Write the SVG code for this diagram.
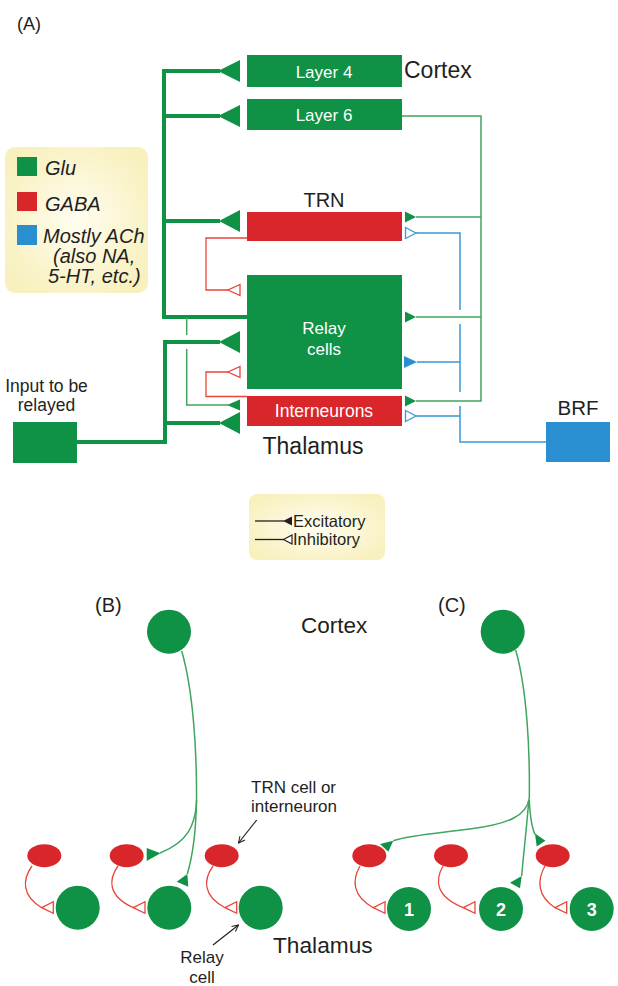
<svg xmlns="http://www.w3.org/2000/svg" width="618" height="986" viewBox="0 0 618 986">
<defs>
<radialGradient id="yel" cx="50%" cy="50%" r="60%">
<stop offset="0" stop-color="#fffdf0"/>
<stop offset="1" stop-color="#f8f0bd"/>
</radialGradient>
<marker id="arr" viewBox="0 0 10 10" refX="9" refY="5" markerWidth="8" markerHeight="8" orient="auto" markerUnits="userSpaceOnUse">
<path d="M1,1 L9,5 L1,9" fill="none" stroke="#231f20" stroke-width="1.3"/>
</marker>
</defs>
<style>
.t{font-family:"Liberation Sans",Arial,sans-serif;fill:#231f20}
.w{font-family:"Liberation Sans",Arial,sans-serif;fill:#ffffff}
.g{fill:#0f9146}
.r{fill:#d9262a}
.b{fill:#2a8fd0}
.thick{fill:none;stroke:#0f9146;stroke-width:4}
.gl{fill:none;stroke:#3fa55f;stroke-width:1.5}
.rl{fill:none;stroke:#e8463a;stroke-width:1.3}
.bl{fill:none;stroke:#3a98d8;stroke-width:1.5}
.ro{fill:#fff;stroke:#e8463a;stroke-width:1.3}
.bo{fill:#fff;stroke:#3a98d8;stroke-width:1.3}
.k{fill:none;stroke:#231f20;stroke-width:1.2}
</style>
<rect width="618" height="986" fill="#ffffff"/>

<text class="t" x="17" y="30" font-size="18">(A)</text>

<g id="legend-colors">
<rect x="5" y="147" width="143" height="146" rx="10" fill="url(#yel)"/>
<rect x="17" y="157" width="20" height="19" class="g"/>
<rect x="17" y="192" width="20" height="19" class="r"/>
<rect x="17" y="225" width="20" height="20" class="b"/>
<text class="t" x="45" y="175" font-size="20" font-style="italic">Glu</text>
<text class="t" x="45" y="210.5" font-size="20" font-style="italic">GABA</text>
<text class="t" x="43" y="243" font-size="20" font-style="italic">Mostly ACh</text>
<text class="t" x="53" y="263" font-size="20" font-style="italic">(also NA,</text>
<text class="t" x="48" y="283" font-size="20" font-style="italic">5-HT, etc.)</text>
</g>

<g id="connectors">
<path class="thick" d="M220,71 H164 V317 H247"/>
<path class="thick" d="M164,116 H220 M164,221 H220"/>
<path class="thick" d="M77,442 H165 V342 H220 M165,423 H220"/>
<path class="gl" d="M186.7,317 V335 M186.7,349 V405 H228"/>
<path class="rl" d="M247,238 H206 V290 H228"/>
<path class="rl" d="M247,396.5 H206 V372 H228"/>
<path class="gl" d="M402,116 H481 V401 H416 M481,217 H416 M481,317 H416"/>
<path class="bl" d="M416,233 H460 V310 M460,324 V392 M460,406 V442 H546 M460,362 H417 M460,416 H416"/>
<g class="g">
<polygon points="240,60 240,82 218,71"/>
<polygon points="240,105 240,127 218,116"/>
<polygon points="240,210 240,232 219,221"/>
<polygon points="240,331 240,353 219,342"/>
<polygon points="240,412 240,434 219,423"/>
<polygon points="240,399.5 240,410.5 227,405"/>
<polygon points="405,211.5 405,222.5 416,217"/>
<polygon points="405,311.5 405,322.5 416,317"/>
<polygon points="405,395.5 405,406.5 416,401"/>
</g>
<polygon class="b" points="404,356 404,368 417,362"/>
<polygon class="ro" points="240,284.5 240,295.5 228,290"/>
<polygon class="ro" points="240,366.5 240,377.5 228,372"/>
<polygon class="bo" points="405.5,227.5 405.5,238.5 416,233"/>
<polygon class="bo" points="405.5,410.5 405.5,421.5 416,416"/>
</g>

<g id="layer4">
<rect x="247" y="55" width="155" height="32" class="g"/>
<text class="w" x="324" y="77.5" font-size="17" text-anchor="middle">Layer 4</text>
<text class="t" x="404" y="78" font-size="23">Cortex</text>
</g>
<g id="layer6">
<rect x="247" y="99" width="155" height="31" class="g"/>
<text class="w" x="324" y="121" font-size="17" text-anchor="middle">Layer 6</text>
</g>
<g id="trn">
<text class="t" x="324" y="206.5" font-size="20" text-anchor="middle">TRN</text>
<rect x="247" y="212" width="155" height="29" class="r"/>
</g>
<g id="relay">
<rect x="247" y="275" width="155" height="114" class="g"/>
<text class="w" x="324" y="333.5" font-size="17" text-anchor="middle">Relay</text>
<text class="w" x="324" y="354.5" font-size="17" text-anchor="middle">cells</text>
</g>
<g id="interneurons">
<rect x="247" y="396" width="155" height="30" class="r"/>
<text class="w" x="324" y="416.5" font-size="17.5" text-anchor="middle">Interneurons</text>
</g>
<text class="t" x="313" y="454" font-size="23" text-anchor="middle">Thalamus</text>
<g id="input">
<text class="t" x="46.5" y="391.5" font-size="17.5" text-anchor="middle">Input to be</text>
<text class="t" x="46.5" y="410.5" font-size="17.5" text-anchor="middle">relayed</text>
<rect x="13" y="422" width="64" height="41" class="g"/>
</g>
<g id="brf">
<text class="t" x="578" y="415" font-size="20.5" text-anchor="middle">BRF</text>
<rect x="546" y="422" width="64" height="40" class="b"/>
</g>

<g id="legend-synapses">
<rect x="249" y="494" width="136" height="66" rx="8" fill="url(#yel)"/>
<line x1="255" y1="521" x2="284" y2="521" stroke="#231f20" stroke-width="1.3"/>
<polygon points="283,521 292,516.5 292,525.5" fill="#231f20"/>
<text class="t" x="293" y="526.5" font-size="16.5">Excitatory</text>
<line x1="255" y1="539.5" x2="284" y2="539.5" stroke="#231f20" stroke-width="1.3"/>
<polygon points="283.5,539.5 292,535 292,544" fill="#fff" stroke="#231f20" stroke-width="1.2"/>
<text class="t" x="293" y="545" font-size="16.5">Inhibitory</text>
</g>

<text class="t" x="95" y="612" font-size="20">(B)</text>
<text class="t" x="438" y="612" font-size="20">(C)</text>
<text class="t" x="301" y="633" font-size="22.5">Cortex</text>
<text class="t" x="273" y="953" font-size="22.7">Thalamus</text>

<g id="b-connectors">
<path class="gl" d="M181.7,651 C193,690 197,750 196.5,803 C195,825 188,842 160,853"/>
<path class="gl" d="M196.5,800 C196,835 192,858 187.3,874"/>
<polygon class="g" points="146.7,848 146.7,861 160.5,853.3"/>
<polygon class="g" points="187.3,874 176.7,881.7 188.3,886.7"/>
<path class="rl" d="M32,866 C22,880 22,896 41.7,907.7"/>
<path class="rl" d="M118,866 C108,880 108,896 133.3,907.7"/>
<path class="rl" d="M213,866 C203,880 203,896 225,907.7"/>
<polygon class="ro" points="41.7,907.7 53.3,901.7 53.3,913.3"/>
<polygon class="ro" points="133.3,907.7 145,901.7 145,913.3"/>
<polygon class="ro" points="225,907.7 236.7,901.7 236.7,913.3"/>
<line class="k" x1="256.7" y1="820" x2="238.5" y2="843" marker-end="url(#arr)"/>
<line class="k" x1="213" y1="945" x2="238.5" y2="925" marker-end="url(#arr)"/>
</g>
<g id="b-cells">
<circle cx="169" cy="631.7" r="22" class="g"/>
<ellipse cx="44.3" cy="855.7" rx="17" ry="11.5" class="r"/>
<ellipse cx="126.7" cy="855.7" rx="17" ry="11.5" class="r"/>
<ellipse cx="221.7" cy="855.7" rx="17" ry="11.5" class="r"/>
<circle cx="77.7" cy="907.7" r="22" class="g"/>
<circle cx="169.3" cy="907.7" r="22" class="g"/>
<circle cx="260.7" cy="907.7" r="22" class="g"/>
<text class="t" x="251" y="793" font-size="17">TRN cell or</text>
<text class="t" x="251" y="812" font-size="17">interneuron</text>
<text class="t" x="202" y="963" font-size="17" text-anchor="middle">Relay</text>
<text class="t" x="202" y="983" font-size="17" text-anchor="middle">cell</text>
</g>

<g id="c-connectors">
<path class="gl" d="M515.7,650 C527,690 530,750 529.3,798 C527,815 510,824 470,829 C440,833 410,835 393.3,840.7"/>
<path class="gl" d="M528.8,800 C526,835 523,858 521.7,876"/>
<path class="gl" d="M529.3,800 C530,815 531,826 535,834.3"/>
<polygon class="g" points="393.3,840.7 380,844 388.3,851.7"/>
<polygon class="g" points="521.7,876 510,882.7 520,888.3"/>
<polygon class="g" points="535,833.5 545.5,840.7 536.7,846.5"/>
<path class="rl" d="M360,866 C352,880 352,896 373.3,907.7"/>
<path class="rl" d="M443,866 C435,880 435,896 463.3,907.7"/>
<path class="rl" d="M545,866 C537,880 537,896 555,907.7"/>
<polygon class="ro" points="373.3,907.7 385,901.7 385,913.3"/>
<polygon class="ro" points="463.3,907.7 475,901.7 475,913.3"/>
<polygon class="ro" points="555,907.7 566.7,901.7 566.7,913.3"/>
</g>
<g id="c-cells">
<circle cx="502.7" cy="631.7" r="22" class="g"/>
<ellipse cx="369.3" cy="855.7" rx="17" ry="11.5" class="r"/>
<ellipse cx="451" cy="855.7" rx="17" ry="11.5" class="r"/>
<ellipse cx="552.7" cy="855.7" rx="17" ry="11.5" class="r"/>
<circle cx="409" cy="909" r="22" class="g"/>
<circle cx="501" cy="909" r="22" class="g"/>
<circle cx="591.7" cy="909" r="22" class="g"/>
<text class="w" x="409" y="915.5" font-size="18" font-weight="bold" text-anchor="middle">1</text>
<text class="w" x="501" y="915.5" font-size="18" font-weight="bold" text-anchor="middle">2</text>
<text class="w" x="591.7" y="915.5" font-size="18" font-weight="bold" text-anchor="middle">3</text>
</g>
</svg>
